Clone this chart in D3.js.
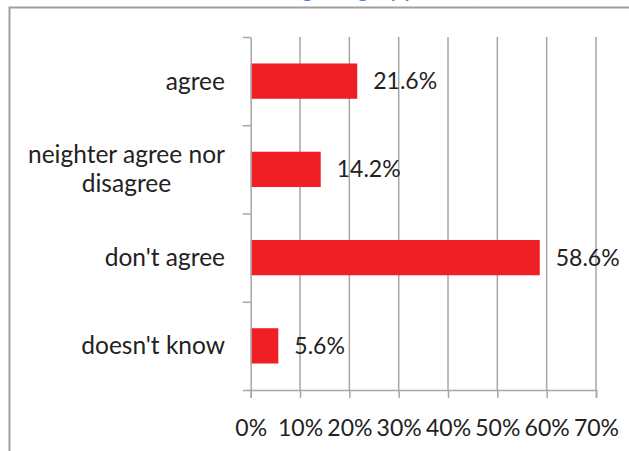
<!DOCTYPE html>
<html>
<head>
<meta charset="utf-8">
<script src="https://cdn.jsdelivr.net/npm/d3@7"></script>
<style>
  body { margin: 0; background: #fff; }
  svg text { font-family: Lato, "Open Sans", sans-serif; fill: #222; }
</style>
</head>
<body>
<div id="chart"></div>
<script>
// chart values
const categories = ['agree', 'neighter agree nor disagree', "don't agree", "doesn't know"];
const categoryLines = [['agree'], ['neighter agree nor', 'disagree'], ["don't agree"], ["doesn't know"]];
const shares = [0.216, 0.142, 0.586, 0.056];
const shareLabels = ['21.6%', '14.2%', '58.6%', '5.6%'];
const xTicks = [0, 0.1, 0.2, 0.3, 0.4, 0.5, 0.6, 0.7];

const width = 629, height = 451;
const plot = { left: 250.7, right: 596, top: 37, bottom: 390 };
const fontSize = 23;
const catFontSize = 24.5;
const gridColor = '#a6a6a6';

const svg = d3.select('#chart')
  .append('svg')
  .attr('width', width)
  .attr('height', height);

// outer frame of the chart area (runs off the right and bottom edges)
svg.append('path')
  .attr('d', `M9.5,${height + 5} L9.5,7.5 L${width + 5},7.5`)
  .attr('fill', 'none')
  .attr('stroke', '#a0a0a0')
  .attr('stroke-width', 2);

// title, mostly cut off above the picture (as in the source)
svg.append('text')
  .attr('x', 383)
  .attr('y', -3)
  .attr('text-anchor', 'middle')
  .style('font-size', '20px')
  .style('font-weight', 'bold')
  .style('fill', '#4a86d8')
  .text('Agreeing (by percent)');

const x = d3.scaleLinear()
  .domain([0, 0.7])
  .range([plot.left, plot.right]);

const y = d3.scaleBand()
  .domain(categories)
  .range([plot.top, plot.bottom])
  .paddingInner(0.6)
  .paddingOuter(0.3);

// vertical gridlines
svg.append('g')
  .selectAll('line')
  .data(xTicks.slice(1))
  .enter()
  .append('line')
  .attr('x1', d => x(d))
  .attr('x2', d => x(d))
  .attr('y1', plot.top)
  .attr('y2', plot.bottom)
  .attr('stroke', gridColor)
  .attr('stroke-width', 1.5);

// bars
svg.append('g')
  .selectAll('rect')
  .data(shares)
  .enter()
  .append('rect')
  .attr('x', x(0))
  .attr('y', (d, i) => y(categories[i]))
  .attr('width', d => x(d) - x(0))
  .attr('height', y.bandwidth())
  .attr('fill', '#ee2026');

// x axis
const xAxis = svg.append('g')
  .attr('transform', `translate(0, ${plot.bottom})`)
  .call(d3.axisBottom(x)
    .tickValues(xTicks)
    .tickSize(8)
    .tickFormat(d3.format('.0%')));
xAxis.select('.domain').attr('stroke', gridColor).attr('stroke-width', 1.5);
xAxis.selectAll('.tick line').attr('stroke', gridColor).attr('stroke-width', 1.5);
xAxis.selectAll('.tick text')
  .attr('y', 38)
  .attr('dy', '0.35em')
  .style('font-size', fontSize + 'px')
  .style('font-family', 'Lato, sans-serif')
  .attr('fill', '#222');

// y axis: ticks between categories, no labels
const yEdges = d3.scaleLinear()
  .domain([0, categories.length])
  .range([plot.top, plot.bottom]);
const yAxis = svg.append('g')
  .attr('transform', `translate(${plot.left}, 0)`)
  .call(d3.axisLeft(yEdges)
    .ticks(categories.length)
    .tickSize(8)
    .tickSizeOuter(0)
    .tickFormat(''));
yAxis.select('.domain').attr('stroke', gridColor).attr('stroke-width', 1.5);
yAxis.selectAll('.tick line').attr('stroke', gridColor).attr('stroke-width', 1.5);

// category labels, multi-line ones centred on the widest line
const lineGap = 29;
const labelRight = 225;
categoryLines.forEach((lines, i) => {
  const cy = y(categories[i]) + y.bandwidth() / 2;
  const g = svg.append('g');
  const texts = lines.map((line, j) => g.append('text')
    .attr('y', cy + (j - (lines.length - 1) / 2) * lineGap)
    .attr('dy', '0.35em')
    .attr('text-anchor', 'middle')
    .style('font-size', catFontSize + 'px')
    .text(line));
  const widest = d3.max(texts, t => t.node().getComputedTextLength());
  texts.forEach(t => t.attr('x', labelRight - widest / 2));
});

// value labels
svg.append('g')
  .selectAll('text')
  .data(shares)
  .enter()
  .append('text')
  .attr('x', d => x(d) + 16)
  .attr('y', (d, i) => y(categories[i]) + y.bandwidth() / 2)
  .attr('dy', '0.35em')
  .style('font-size', fontSize + 'px')
  .text((d, i) => shareLabels[i]);
</script>
</body>
</html>
